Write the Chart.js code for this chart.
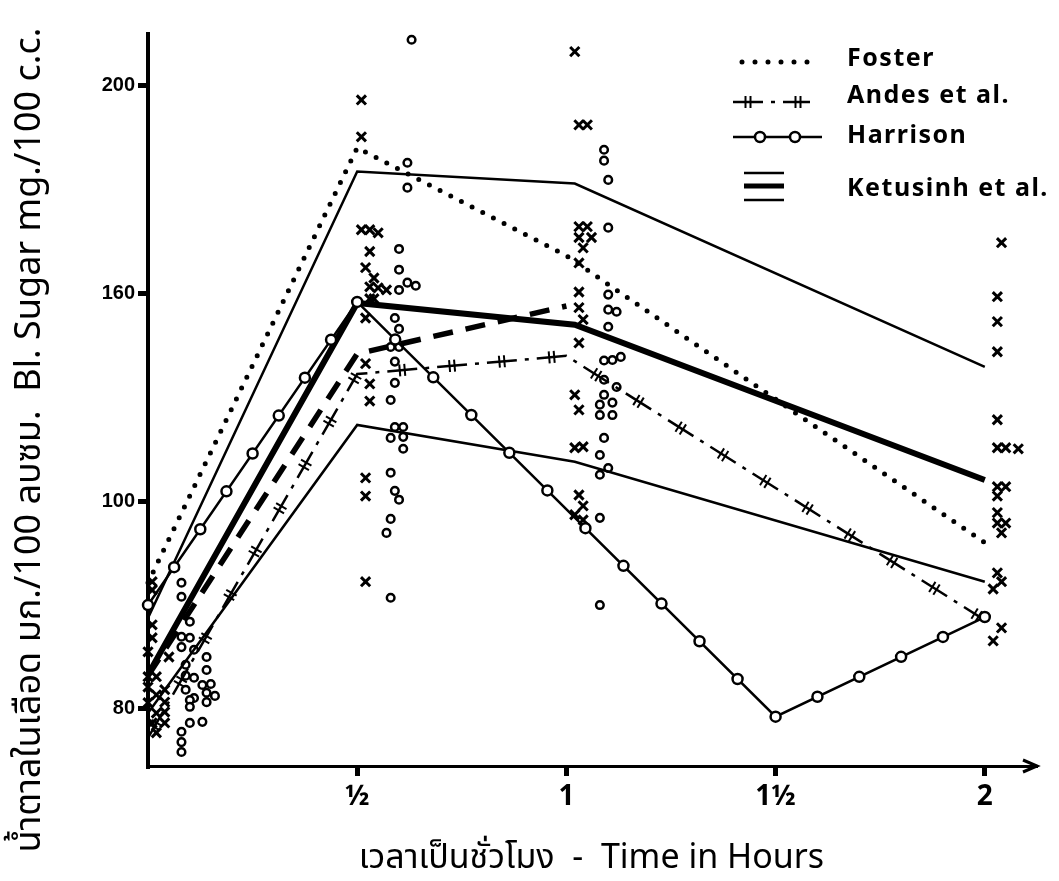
<!DOCTYPE html>
<html>
<head>
<meta charset="utf-8">
<script src="https://cdn.jsdelivr.net/npm/chart.js@4/dist/chart.umd.min.js"></script>
<style>
  html, body { margin: 0; padding: 0; background: #fff; }
  #wrap { width: 1059px; height: 881px; }
</style>
</head>
<body>
<div id="wrap"><canvas id="sugarChart" width="1059" height="881"></canvas></div>
<script>
'use strict';

// Time in hours
const timePoints = [0, 0.5, 1, 2];
const harrisonTimes = [0, 0.5, 1.5, 2];
const ketusinhTimes = [0, 0.5, 1.02, 2];
const dashedTimes = [0, 0.5, 1];

const xTickValues = [0.5, 1, 1.5, 2];
const xTickLabels = ['½', '1', '1½', '2'];
const yTickValues = [80, 120, 160, 200];
const yTickLabels = ['80', '100', '160', '200'];

// Curves, blood sugar mg/100 c.c.
const fosterValues = [104.3, 188.1, 167.3, 112.0];
const andesValues = [74.4, 144.5, 148.0, 97.1];
const harrisonValues = [100.0, 158.4, 78.5, 97.7];
const ketusinhHigh = [97.5, 183.5, 181.2, 145.9];
const ketusinhMean = [86.6, 158.2, 154.0, 124.1];
const ketusinhLow = [79.2, 134.7, 127.6, 104.5];
const dashedValues = [86.4, 148.4, 157.6];

// Single readings drawn as x marks: [hours, value]
const crossesFasting = [[0.01, 104.5], [0.01, 102.9], [0.01, 96.2], [0.01, 93.7], [0.00, 91.0], [0.05, 90.0],
  [0.00, 86.2], [0.02, 86.2], [0.00, 84.2], [0.04, 83.7], [0.02, 82.7], [0.00, 81.2], [0.04, 81.3],
  [0.02, 79.2], [0.04, 79.4], [0.01, 77.3], [0.04, 77.3], [0.02, 75.4]];
const crossesHalf = [[0.52, 214.7], [0.51, 197.3], [0.51, 190.2], [0.51, 172.3], [0.53, 172.3], [0.55, 171.7],
  [0.53, 168.1], [0.52, 165.0], [0.54, 163.0], [0.53, 161.3], [0.55, 161.1], [0.57, 160.7], [0.53, 159.0],
  [0.54, 159.0], [0.52, 155.3], [0.52, 146.5], [0.53, 142.6], [0.53, 139.3], [0.52, 124.5], [0.52, 121.0],
  [0.52, 104.5]];
const crossesOne = [[1.02, 206.6], [1.03, 192.5], [1.05, 192.5], [1.03, 172.9], [1.05, 172.9], [1.03, 170.8],
  [1.06, 170.8], [1.04, 168.8], [1.03, 165.9], [1.03, 160.3], [1.03, 157.3], [1.04, 155.0], [1.03, 150.5],
  [1.02, 140.5], [1.03, 137.6], [1.02, 130.3], [1.04, 130.5], [1.03, 121.2], [1.04, 119.1], [1.02, 117.4],
  [1.04, 116.4]];
const crossesTwo = [[2.04, 169.8], [2.03, 159.4], [2.03, 154.6], [2.03, 148.8], [2.03, 135.7], [2.03, 130.3],
  [2.05, 130.3], [2.08, 130.1], [2.03, 122.8], [2.05, 122.8], [2.03, 121.0], [2.03, 117.8], [2.03, 115.8],
  [2.05, 115.8], [2.04, 113.9], [2.03, 106.2], [2.04, 104.5], [2.02, 103.1], [2.04, 95.6], [2.02, 93.1]];

// Single readings drawn as small circles
const circlesFasting = [[0.08, 104.3], [0.08, 101.6], [0.10, 96.8], [0.08, 93.9], [0.10, 93.7], [0.08, 91.9],
  [0.11, 91.4], [0.14, 90.0], [0.09, 88.5], [0.14, 87.5], [0.09, 86.4], [0.11, 86.0], [0.15, 84.8],
  [0.13, 84.6], [0.09, 83.7], [0.11, 82.1], [0.14, 83.1], [0.16, 82.5], [0.10, 81.7], [0.14, 81.3],
  [0.10, 80.4], [0.13, 77.5], [0.10, 77.3], [0.08, 75.6], [0.08, 73.6], [0.08, 71.7]];
const circlesHalf = [[0.63, 208.9], [0.62, 185.2], [0.62, 180.4], [0.60, 168.6], [0.60, 164.6], [0.62, 162.1],
  [0.64, 161.5], [0.60, 160.7], [0.59, 155.3], [0.60, 153.2], [0.58, 149.7], [0.60, 149.7], [0.59, 146.9],
  [0.59, 142.8], [0.58, 139.5], [0.59, 134.3], [0.61, 134.3], [0.58, 132.2], [0.61, 132.4], [0.61, 130.1],
  [0.58, 125.5], [0.59, 122.0], [0.60, 120.3], [0.58, 116.6], [0.57, 113.9], [0.58, 101.4]];
const circlesOne = [[1.09, 187.7], [1.09, 185.6], [1.10, 181.9], [1.10, 172.7], [1.10, 159.8], [1.10, 156.9],
  [1.12, 156.5], [1.10, 153.6], [1.09, 147.1], [1.11, 147.2], [1.13, 147.8], [1.09, 143.4], [1.12, 142.0],
  [1.09, 140.5], [1.08, 138.6], [1.11, 139.0], [1.08, 136.6], [1.11, 136.6], [1.09, 132.2], [1.08, 128.9],
  [1.10, 126.4], [1.08, 125.1], [1.08, 116.8], [1.08, 100.0]];

const legendNames = ['Foster', 'Andes et al.', 'Harrison', 'Ketusinh et al.'];
const yTitle = 'น้ำตาลในเลือด มก./100 ลบซม.  Bl. Sugar mg./100 c.c.';
const xTitle = 'เวลาเป็นชั่วโมง  -  Time in Hours';

const FONT = "'Noto Sans', 'Noto Sans Thai', 'DejaVu Sans', sans-serif";
const ANDES_DASH = [30, 8, 4, 8];
const HARRISON_STEPS = [8, 11, 5];

const toXY = (xs, ys) => ys.map((y, i) => ({ x: xs[i], y }));
const pairs = arr => arr.map(([x, y]) => ({ x, y }));

function lineSet(label, xs, ys, extra) {
  return Object.assign({
    type: 'line', label, data: toXY(xs, ys), borderColor: '#000', borderWidth: 2.5,
    pointRadius: 0, tension: 0, fill: false, clip: false
  }, extra);
}

// Circles spaced evenly along each segment (Harrison style)
function drawRings(ctx, pts, steps) {
  ctx.save();
  ctx.lineWidth = 2.5;
  ctx.strokeStyle = '#000';
  ctx.fillStyle = '#fff';
  for (let s = 0; s < pts.length - 1; s++) {
    const a = pts[s], b = pts[s + 1], n = steps[s];
    for (let k = s === 0 ? 0 : 1; k <= n; k++) {
      ctx.beginPath();
      ctx.arc(a.x + (b.x - a.x) * k / n, a.y + (b.y - a.y) * k / n, 5, 0, Math.PI * 2);
      ctx.fill();
      ctx.stroke();
    }
  }
  ctx.restore();
}

// Double cross bars in the middle of each long dash (Andes style)
function drawBars(ctx, pts, period, offset) {
  ctx.save();
  ctx.lineWidth = 2;
  ctx.strokeStyle = '#000';
  let base = 0, next = offset;
  for (let s = 0; s < pts.length - 1; s++) {
    const a = pts[s], b = pts[s + 1];
    const len = Math.hypot(b.x - a.x, b.y - a.y);
    const ux = (b.x - a.x) / len, uy = (b.y - a.y) / len;
    while (next <= base + len) {
      const t = next - base;
      for (const o of [-2.5, 2.5]) {
        const mx = a.x + ux * (t + o), my = a.y + uy * (t + o);
        ctx.beginPath();
        ctx.moveTo(mx - uy * 6, my + ux * 6);
        ctx.lineTo(mx + uy * 6, my - ux * 6);
        ctx.stroke();
      }
      next += period;
    }
    base += len;
  }
  ctx.restore();
}

function strokeLine(ctx, x1, y1, x2, y2, width, dash, cap) {
  ctx.save();
  ctx.lineWidth = width;
  ctx.strokeStyle = '#000';
  ctx.lineCap = cap || 'butt';
  ctx.setLineDash(dash || []);
  ctx.beginPath();
  ctx.moveTo(x1, y1);
  ctx.lineTo(x2, y2);
  ctx.stroke();
  ctx.restore();
}

const decorPlugin = {
  id: 'decor',
  afterDatasetsDraw(chart) {
    const ctx = chart.ctx;
    chart.data.datasets.forEach((ds, i) => {
      const pts = chart.getDatasetMeta(i).data.map(p => ({ x: p.x, y: p.y }));
      if (ds.decor === 'rings') drawRings(ctx, pts, HARRISON_STEPS);
      if (ds.decor === 'bars') drawBars(ctx, pts, 50, 15);
    });
  },
  afterDraw(chart) {
    const ctx = chart.ctx;
    const area = chart.chartArea;

    // arrow head on time axis
    ctx.save();
    ctx.lineWidth = 3;
    ctx.beginPath();
    ctx.moveTo(area.right - 12, area.bottom - 6);
    ctx.lineTo(area.right + 2, area.bottom);
    ctx.lineTo(area.right - 12, area.bottom + 6);
    ctx.stroke();
    ctx.restore();

    // legend
    ctx.save();
    ctx.fillStyle = '#000';
    ctx.font = 'bold 25px ' + FONT;
    ctx.letterSpacing = '1.5px';
    ctx.textBaseline = 'middle';
    const rows = [59, 96, 136, 189];
    legendNames.forEach((name, i) => ctx.fillText(name, 847, rows[i]));
    ctx.restore();
    strokeLine(ctx, 742, 62, 808, 62, 5, [0, 13], 'round');
    strokeLine(ctx, 733, 102, 810, 102, 2.5, ANDES_DASH);
    drawBars(ctx, [{ x: 733, y: 102 }, { x: 810, y: 102 }], 50, 15);
    strokeLine(ctx, 733, 137, 822, 137, 2.5);
    drawRings(ctx, [{ x: 760, y: 137 }, { x: 795, y: 137 }], [1]);
    strokeLine(ctx, 744, 173, 784, 173, 2.5);
    strokeLine(ctx, 744, 186, 784, 186, 5);
    strokeLine(ctx, 744, 200, 784, 200, 2.5);

    // vertical axis title
    ctx.save();
    ctx.fillStyle = '#000';
    ctx.font = '36px ' + FONT;
    ctx.textAlign = 'center';
    ctx.textBaseline = 'middle';
    ctx.translate(30, 440);
    ctx.rotate(-Math.PI / 2);
    ctx.fillText(yTitle, 0, 0);
    ctx.restore();
  }
};

const ctx = document.getElementById('sugarChart').getContext('2d');

new Chart(ctx, {
  type: 'scatter',
  data: {
    datasets: [
      lineSet('Foster', timePoints, fosterValues, { borderWidth: 5, borderDash: [0, 12], borderCapStyle: 'round' }),
      lineSet('Andes et al.', timePoints, andesValues, { borderWidth: 2.5, borderDash: ANDES_DASH, decor: 'bars' }),
      lineSet('Ketusinh high', ketusinhTimes, ketusinhHigh),
      lineSet('Ketusinh mean', ketusinhTimes, ketusinhMean, { borderWidth: 6 }),
      lineSet('Ketusinh low', ketusinhTimes, ketusinhLow),
      lineSet('dashed', dashedTimes, dashedValues, { borderWidth: 5.5, borderDash: [20, 13] }),
      lineSet('Harrison', harrisonTimes, harrisonValues, { decor: 'rings' }),
      {
        label: 'x readings',
        data: pairs([...crossesFasting, ...crossesHalf, ...crossesOne, ...crossesTwo]),
        pointStyle: 'crossRot', pointRadius: 6.5, borderColor: '#000', borderWidth: 3, clip: false
      },
      {
        label: 'o readings',
        data: pairs([...circlesFasting, ...circlesHalf, ...circlesOne]),
        pointStyle: 'circle', pointRadius: 3.8, borderColor: '#000', backgroundColor: '#fff',
        borderWidth: 2.5, clip: false
      }
    ]
  },
  options: {
    responsive: false,
    animation: false,
    layout: { padding: { left: 0, right: 24, top: 34, bottom: 0 } },
    plugins: { legend: { display: false }, tooltip: { enabled: false } },
    scales: {
      x: {
        type: 'linear',
        min: 0,
        max: 2.12,
        afterBuildTicks: s => { s.ticks = xTickValues.map(v => ({ value: v })); },
        afterFit: s => { s.height = 115; },
        border: { color: '#000', width: 3 },
        grid: { drawOnChartArea: false, tickLength: 10, color: '#000', lineWidth: 5 },
        ticks: {
          callback: v => xTickLabels[xTickValues.indexOf(v)] || '',
          color: '#000', padding: 4, maxRotation: 0, autoSkip: false,
          font: { family: FONT, size: 28, weight: 'bold' }
        },
        title: {
          display: true, text: xTitle, color: '#000',
          font: { family: FONT, size: 34 }, padding: { top: 0, bottom: 2 }
        }
      },
      y: {
        type: 'linear',
        min: 69,
        max: 210,
        afterBuildTicks: s => { s.ticks = yTickValues.map(v => ({ value: v })); },
        afterFit: s => { s.width = 148; },
        border: { color: '#000', width: 4 },
        grid: { drawOnChartArea: false, tickLength: 10, color: '#000', lineWidth: 5 },
        ticks: {
          callback: v => yTickLabels[yTickValues.indexOf(v)] || '',
          color: '#000', padding: 3, autoSkip: false,
          font: { family: "'Liberation Sans', sans-serif", size: 20, weight: 'bold' }
        }
      }
    }
  },
  plugins: [decorPlugin]
});
</script>
</body>
</html>
